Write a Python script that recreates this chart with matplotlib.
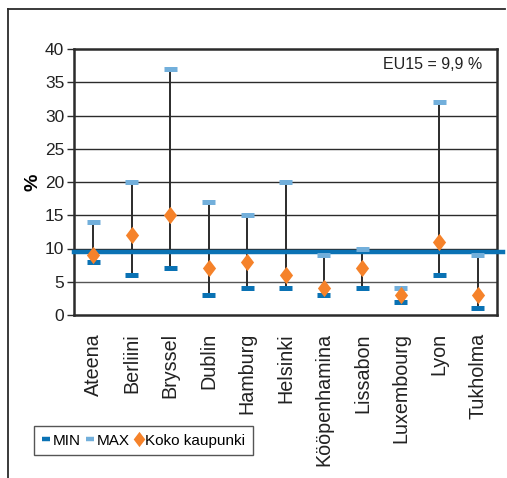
import matplotlib
matplotlib.use("Agg")
import matplotlib.pyplot as plt
from matplotlib.lines import Line2D
from matplotlib.path import Path
import numpy as np

cities = ["Ateena", "Berliini", "Bryssel", "Dublin", "Hamburg", "Helsinki",
          "Kööpenhamina", "Lissabon", "Luxembourg", "Lyon", "Tukholma"]
min_vals = [8, 6, 7, 3, 4, 4, 3, 4, 2, 6, 1]
max_vals = [14, 20, 37, 17, 15, 20, 9, 10, 4, 32, 9]
avg_vals = [9, 12, 15, 7, 8, 6, 4, 7, 3, 11, 3]
eu_line = 9.4
eu_label = "EU15 = 9,9 %"
yticks = [0, 5, 10, 15, 20, 25, 30, 35, 40]

REG = ["Liberation Sans", "DejaVu Sans"]

C_MIN = "#0a72b4"
C_MAX = "#72afdb"
C_AVG = "#f5822a"
C_DARK = "#2b2b2b"

fig = plt.figure(figsize=(5.07, 4.78), dpi=100)
ax = fig.add_axes([74/507, 1-315/478, (497-74)/507, (315-49)/478])

x = np.arange(len(cities))

for yv in yticks[1:-1]:
    ax.axhline(yv, color=C_DARK if yv != 5 else "#555555", lw=1.0, zorder=1)

ax.vlines(x, min_vals, max_vals, color=C_DARK, lw=1.4, zorder=2)
ax.axhline(eu_line, xmin=0, xmax=(503-74)/(497-74), color=C_MIN, lw=3.2,
           zorder=3, clip_on=False)
hw = 0.17
ax.hlines(max_vals, x-hw, x+hw, color=C_MAX, lw=3.6, zorder=4)
ax.hlines(min_vals, x-hw, x+hw, color=C_MIN, lw=3.6, zorder=4)

diamond = Path([(0, 1), (0.76, 0), (0, -1), (-0.76, 0), (0, 1)],
               [Path.MOVETO, Path.LINETO, Path.LINETO, Path.LINETO, Path.CLOSEPOLY])
ax.plot(x, avg_vals, linestyle="none", marker=diamond, markersize=12.5,
        color=C_AVG, markeredgewidth=0, zorder=5)

ax.set_xlim(-0.5, len(cities)-0.5)
ax.set_ylim(0, 40)
ax.set_yticks(yticks)
ax.set_yticklabels([str(v) for v in yticks], fontfamily=REG, fontsize=12.5,
                   color="#222222")
ax.set_xticks(x)
ax.set_xticklabels(cities, rotation=90, fontfamily=REG, fontsize=14.2,
                   color="#222222")
ax.tick_params(axis="x", length=0, pad=13)
ax.tick_params(axis="y", length=5, width=1, color=C_DARK, pad=2)
for s in ax.spines.values():
    s.set_color(C_DARK)
    s.set_linewidth(1.8)

ax.set_ylabel("%", fontfamily=REG, fontsize=14, fontweight="bold")
ax.yaxis.set_label_coords((42-74)/423, 0.5)

ax.text(0.965, 37.6, eu_label, transform=ax.get_yaxis_transform(),
        ha="right", va="center", fontfamily=REG, fontsize=11.5, color="#222222")

handles = [
    Line2D([], [], color=C_MIN, lw=3.2, solid_capstyle="butt"),
    Line2D([], [], color=C_MAX, lw=3.2, solid_capstyle="butt"),
    Line2D([], [], linestyle="none", marker=diamond, markersize=11,
           color=C_AVG, markeredgewidth=0),
]
leg = fig.legend(handles, ["MIN", "MAX", "Koko kaupunki"], ncol=3,
                 loc="upper left", bbox_to_anchor=(34/507, 1-426/478),
                 borderaxespad=0, frameon=True, fancybox=False,
                 handlelength=0.55, handletextpad=0.15, columnspacing=0.35,
                 borderpad=0.5, prop={"family": REG, "size": 11})
leg.get_frame().set_edgecolor(C_DARK)
leg.get_frame().set_linewidth(1.0)

fig.add_artist(Line2D([8/507, 8/507], [0, 1-9/478], transform=fig.transFigure,
                      color=C_DARK, lw=1.3))
fig.add_artist(Line2D([8/507, 505/507], [1-9/478, 1-9/478], transform=fig.transFigure,
                      color=C_DARK, lw=1.3))

fig.savefig("out.png", dpi=100)
